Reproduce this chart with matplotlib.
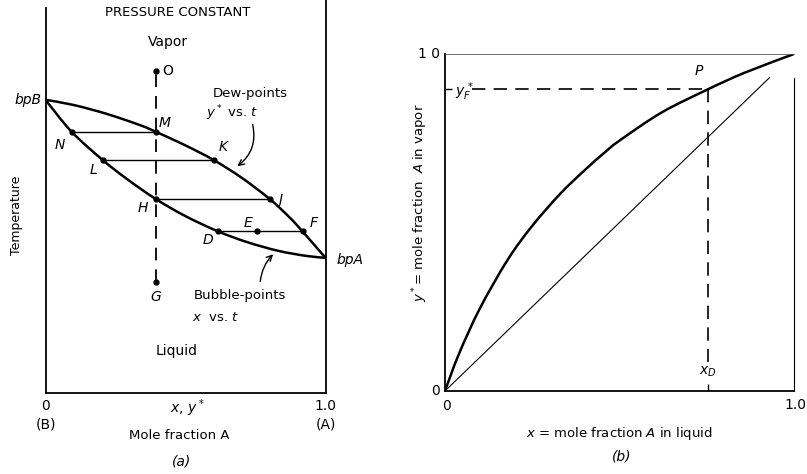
import matplotlib
matplotlib.use("Agg")
import matplotlib.pyplot as plt
from matplotlib.path import Path
from matplotlib.patches import PathPatch

plt.rcParams['font.family'] = ['DejaVu Sans']

# (a) boiling-point diagram, x = mole fraction A, t scaled 0..1
dew_x = [0.0, 0.10, 0.22, 0.34, 0.393, 0.50, 0.60, 0.70, 0.80, 0.87, 0.918, 1.0]
dew_t = [0.746, 0.733, 0.710, 0.681, 0.665, 0.630, 0.593, 0.548, 0.494, 0.448, 0.411, 0.344]
bub_x = [0.0, 0.093, 0.204, 0.29, 0.393, 0.50, 0.617, 0.72, 0.83, 0.93, 1.0]
bub_t = [0.746, 0.665, 0.593, 0.545, 0.494, 0.450, 0.411, 0.384, 0.362, 0.349, 0.344]

# tie lines: liquid x, vapour x, temperature
tie_liq = [0.093, 0.204, 0.393, 0.617]
tie_vap = [0.393, 0.60, 0.80, 0.918]
tie_t = [0.665, 0.593, 0.494, 0.411]

x_feed = 0.393
t_O = 0.819
t_G = 0.282
x_E = 0.754

# (b) equilibrium curve
eq_x = [0.0, 0.04, 0.10, 0.18, 0.25, 0.33, 0.40, 0.46, 0.50, 0.62, 0.753, 0.86, 1.0]
eq_y = [0.0, 0.11, 0.245, 0.39, 0.49, 0.585, 0.655, 0.71, 0.743, 0.826, 0.895, 0.945, 1.0]
x_D = 0.753
y_F = 0.895
diag_end = 0.93


def smooth_curve(ax, xs, ys, **kw):
    # Catmull-Rom through the points, drawn as cubic Bezier segments
    n = len(xs)
    verts = [(xs[0], ys[0])]
    codes = [Path.MOVETO]
    for i in range(n - 1):
        x0, y0 = (xs[i - 1], ys[i - 1]) if i > 0 else (xs[i], ys[i])
        x1, y1 = xs[i], ys[i]
        x2, y2 = xs[i + 1], ys[i + 1]
        x3, y3 = (xs[i + 2], ys[i + 2]) if i + 2 < n else (x2, y2)
        c1 = (x1 + (x2 - x0) / 6, y1 + (y2 - y0) / 6)
        c2 = (x2 - (x3 - x1) / 6, y2 - (y3 - y1) / 6)
        verts += [c1, c2, (x2, y2)]
        codes += [Path.CURVE4] * 3
    ax.add_patch(PathPatch(Path(verts, codes), fill=False, **kw))


fig = plt.figure(figsize=(8.07, 4.74), dpi=100)

# ---------------- (a) ----------------
ax = fig.add_axes([0.0564, 0.1709, 0.347, 0.829])
ax.set_xlim(0, 1)
ax.set_ylim(0, 1)
ax.set_xticks([])
ax.set_yticks([])
ax.spines['top'].set_visible(False)
for s in ('left', 'right', 'bottom'):
    ax.spines[s].set_linewidth(1.3)
ax.spines['left'].set_bounds(0, 0.98)

smooth_curve(ax, dew_x, dew_t, lw=1.8, edgecolor='black', capstyle='round')
smooth_curve(ax, bub_x, bub_t, lw=1.8, edgecolor='black', capstyle='round')

for xl, xv, t in zip(tie_liq, tie_vap, tie_t):
    ax.plot([xl, xv], [t, t], color='black', lw=1.0)
    ax.plot([xl, xv], [t, t], 'o', color='black', ms=3.5)

ax.plot([x_feed, x_feed], [t_G, t_O], color='black', lw=1.3, dashes=(7, 5))
ax.plot([x_feed, x_feed], [t_O, t_G], 'o', color='black', ms=3.5)
ax.plot([x_E], [tie_t[3]], 'o', color='black', ms=3.5)

lab = dict(fontsize=10, style='italic', ha='center', va='center')
ax.text(0.427, 0.686, 'M', **lab)
ax.text(0.052, 0.631, 'N', **lab)
ax.text(0.171, 0.567, 'L', **lab)
ax.text(0.633, 0.627, 'K', **lab)
ax.text(0.349, 0.472, 'H', **lab)
ax.text(0.8375, 0.491, 'J', **lab)
ax.text(0.724, 0.433, 'E', **lab)
ax.text(0.581, 0.389, 'D', **lab)
ax.text(0.956, 0.433, 'F', **lab)
ax.text(0.418, t_O, 'O', fontsize=10, ha='left', va='center')
ax.text(x_feed, 0.245, 'G', **lab)
ax.text(-0.015, 0.745, 'bpB', fontsize=10, style='italic', ha='right', va='center')
ax.text(1.038, 0.338, 'bpA', fontsize=10, style='italic', ha='left', va='center')

ax.text(0.473, 0.969, 'PRESSURE CONSTANT', fontsize=9.5, ha='center', va='center')
ax.text(0.4375, 0.893, 'Vapor', fontsize=10, ha='center', va='center')
ax.text(0.469, 0.107, 'Liquid', fontsize=10, ha='center', va='center')
ax.text(0.730, 0.763, 'Dew-points', fontsize=9.5, ha='center', va='center')
ax.text(0.667, 0.712, r'$y^*$ vs. $t$', fontsize=9.5, ha='center', va='center')
ax.text(0.695, 0.247, 'Bubble-points', fontsize=9.5, ha='center', va='center')
ax.text(0.523, 0.193, r'$x$  vs. $t$', fontsize=9.5, ha='left', va='center')

ax.annotate('', xy=(0.677, 0.573), xytext=(0.7375, 0.69),
            arrowprops=dict(arrowstyle='->', lw=1.0, color='black',
                            connectionstyle='arc3,rad=-0.35'))
ax.annotate('', xy=(0.82, 0.358), xytext=(0.766, 0.277),
            arrowprops=dict(arrowstyle='->', lw=1.0, color='black',
                            connectionstyle='arc3,rad=-0.2'))

ax.text(-0.105, 0.453, 'Temperature', fontsize=9, rotation=90, ha='center', va='center')
ax.text(0.0, -0.033, '0', fontsize=10, ha='center', va='center')
ax.text(0.0, -0.079, '(B)', fontsize=10, ha='center', va='center')
ax.text(1.0, -0.033, '1.0', fontsize=10, ha='center', va='center')
ax.text(1.0, -0.079, '(A)', fontsize=10, ha='center', va='center')
ax.text(0.505, -0.038, r'$x$, $y^*$', fontsize=10, ha='center', va='center')
ax.text(0.477, -0.107, 'Mole fraction A', fontsize=9.5, ha='center', va='center')
ax.text(0.484, -0.175, '(a)', fontsize=10, style='italic', ha='center', va='center')

# ---------------- (b) ----------------
bx = fig.add_axes([0.5514, 0.1751, 0.4325, 0.711])
bx.set_xlim(0, 1)
bx.set_ylim(0, 1)
bx.spines['left'].set_linewidth(1.3)
bx.spines['bottom'].set_linewidth(1.3)
bx.spines['top'].set_linewidth(0.6)
bx.spines['top'].set_color('#555555')
bx.spines['right'].set_linewidth(0.8)
bx.spines['right'].set_bounds(0, diag_end)
bx.set_xticks([x_D])
bx.set_yticks([y_F])
bx.set_xticklabels([])
bx.set_yticklabels([])
bx.tick_params(direction='in', length=5, width=1.0)

smooth_curve(bx, eq_x, eq_y, lw=1.8, edgecolor='black', capstyle='round')
bx.plot([0, diag_end], [0, diag_end], color='black', lw=0.8)
bx.plot([0.077, x_D], [y_F, y_F], color='black', lw=1.2, dashes=(8, 5))
bx.plot([x_D, x_D], [y_F, 0.086], color='black', lw=1.2, dashes=(8, 5))

bx.text(x_D - 0.025, y_F + 0.055, 'P', fontsize=10, style='italic', ha='center', va='center')
bx.text(0.029, 0.887, r'$y_F^{\,*}$', fontsize=10, ha='left', va='center')
bx.text(x_D, 0.057, r'$x_D$', fontsize=10, ha='center', va='center')

bx.text(-0.015, 1.0, '1 0', fontsize=10, ha='right', va='center')
bx.text(-0.015, 0.0, '0', fontsize=10, ha='right', va='center')
bx.text(0.005, -0.045, '0', fontsize=10, ha='center', va='center')
bx.text(1.005, -0.042, '1.0', fontsize=10, ha='center', va='center')
bx.text(0.5, -0.125, r'$x$ = mole fraction $A$ in liquid', fontsize=9.5, ha='center', va='center')
bx.text(0.505, -0.195, '(b)', fontsize=10, style='italic', ha='center', va='center')
bx.text(-0.072, 0.558, r'$y^*$= mole fraction  $A$ in vapor', fontsize=9.5,
        rotation=90, ha='center', va='center')

fig.savefig('out.png', dpi=100)
